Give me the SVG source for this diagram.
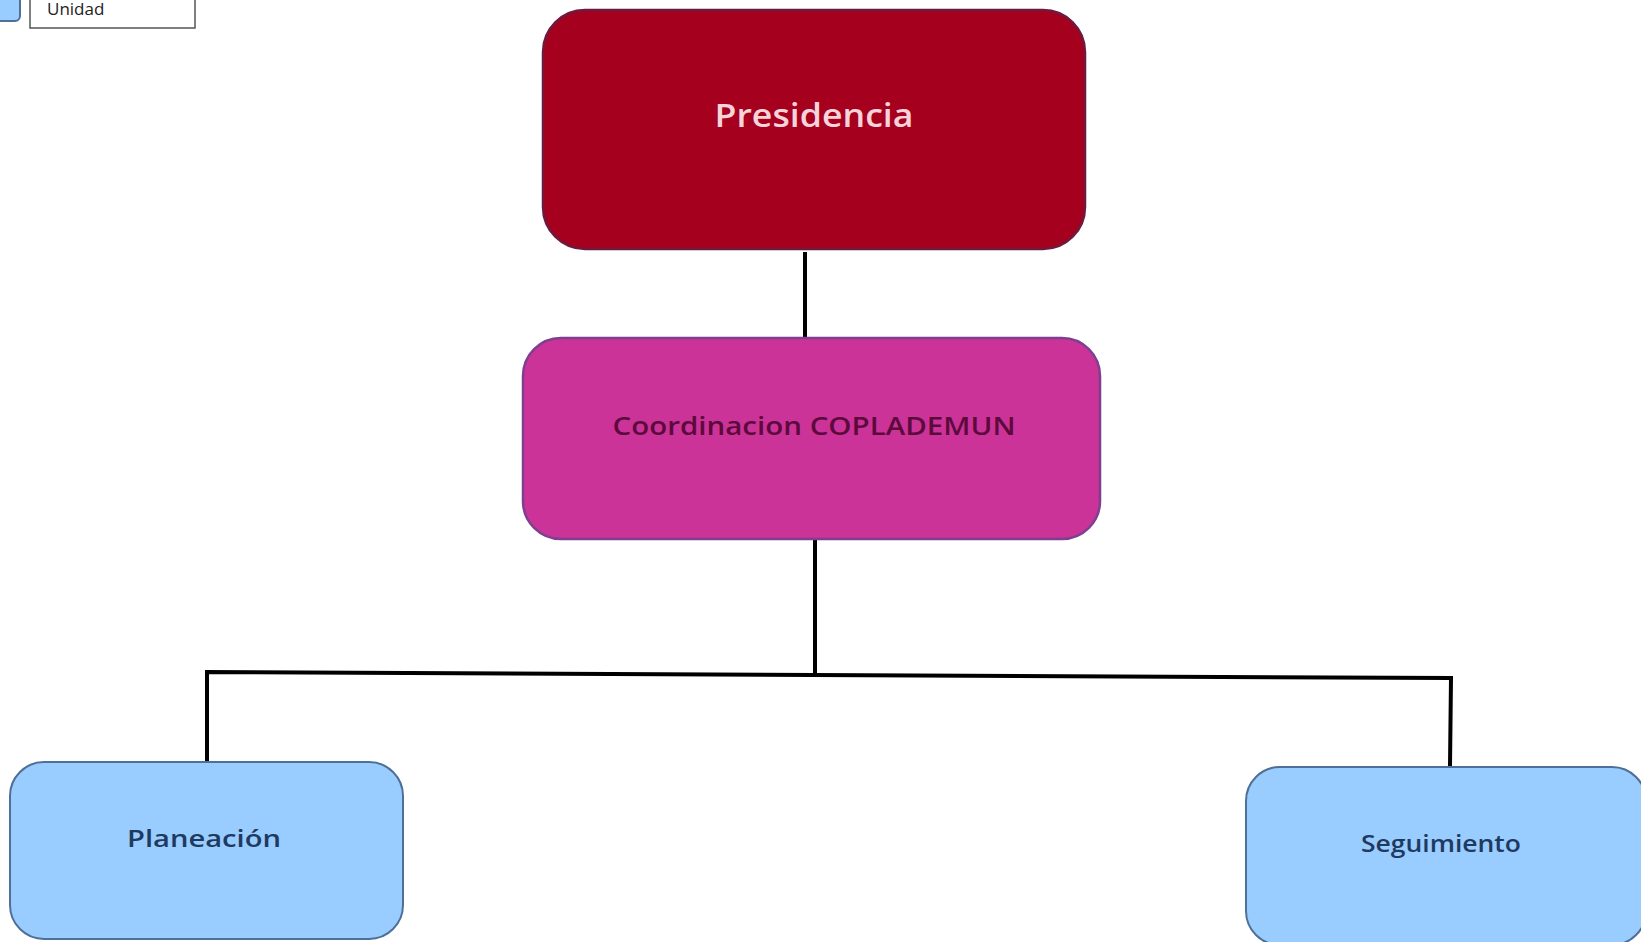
<svg xmlns="http://www.w3.org/2000/svg" width="1641" height="942" viewBox="0 0 1641 942">
<style>
.lbl{font-family:"Open Sans","Liberation Sans",sans-serif;font-weight:600;text-anchor:middle}
.conn{stroke:#000;stroke-width:4;fill:none;stroke-linecap:square}
.unit{fill:#99ccff;stroke:#4f6f96;stroke-width:2}
</style>
<rect x="0" y="0" width="1641" height="942" fill="#fff"/>
<g id="legend">
<rect x="-8" y="-8" width="28" height="29" rx="5" fill="#99ccff" stroke="#4f6f96" stroke-width="2"/>
<rect x="30" y="-2" width="165" height="30" fill="#fff" stroke="#555" stroke-width="1.5"/>
<text x="47" y="15" font-family="'Open Sans','Liberation Sans',sans-serif" font-size="17" fill="#222">Unidad</text>
</g>
<g id="connectors">
<line class="conn" x1="805" y1="254" x2="805" y2="337"/>
<line class="conn" x1="815" y1="540" x2="815" y2="672"/>
<path class="conn" d="M207 762 L207 672 L1451 678 L1450 766"/>
</g>
<g id="presidencia">
<rect x="543" y="10" width="542" height="239" rx="42" fill="#a6001f" stroke="#6e1a3e" stroke-width="2.5"/>
<text class="lbl" x="814" y="127" font-size="33" textLength="199" lengthAdjust="spacingAndGlyphs" fill="#f7d3da">Presidencia</text>
</g>
<g id="coordinacion">
<rect x="523" y="338" width="577" height="201" rx="38" fill="#cc3399" stroke="#7e3f8e" stroke-width="2.5"/>
<text class="lbl" x="814" y="435" font-size="26" textLength="403" lengthAdjust="spacingAndGlyphs" fill="#5c0a3c">Coordinacion COPLADEMUN</text>
</g>
<g id="planeacion">
<rect class="unit" x="10" y="762" width="393" height="177" rx="34"/>
<text class="lbl" x="204" y="847" font-size="24" textLength="154" lengthAdjust="spacingAndGlyphs" fill="#1f3a5f">Planeación</text>
</g>
<g id="seguimiento">
<rect class="unit" x="1246" y="767" width="400" height="178" rx="34"/>
<text class="lbl" x="1441" y="852" font-size="24" textLength="160" lengthAdjust="spacingAndGlyphs" fill="#1f3a5f">Seguimiento</text>
</g>
</svg>
